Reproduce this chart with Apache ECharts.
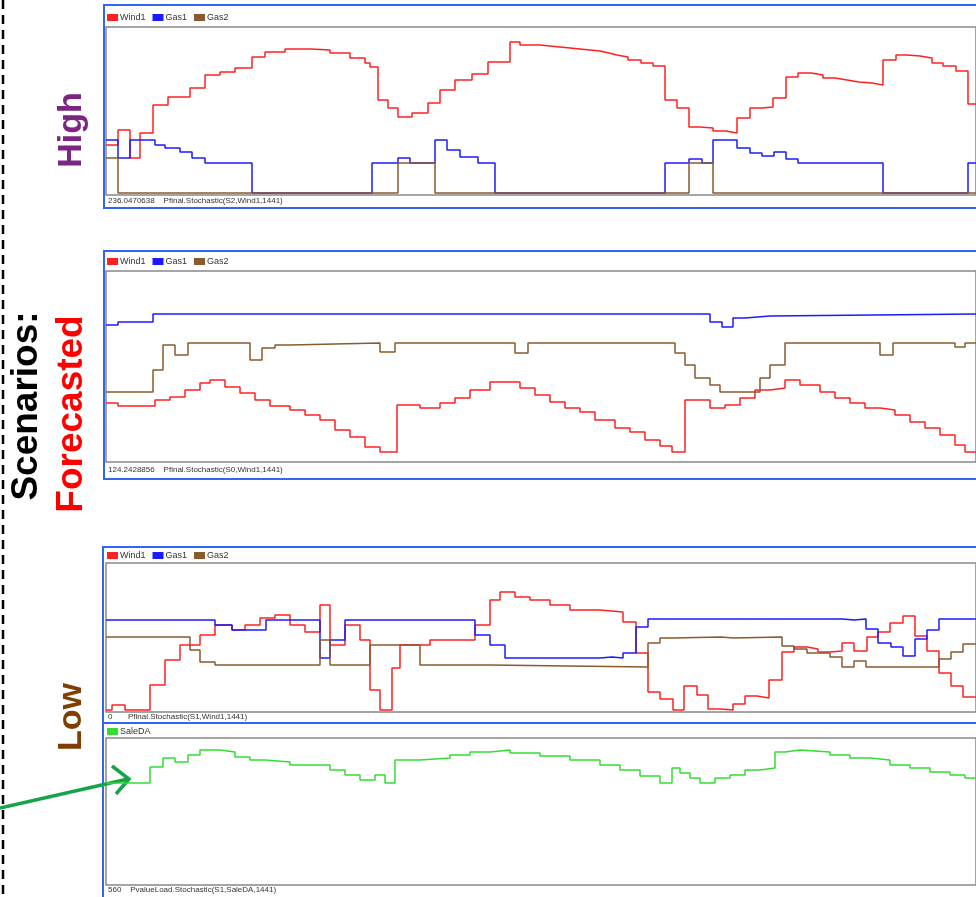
<!DOCTYPE html>
<html>
<head>
<meta charset="utf-8">
<script src="https://cdn.jsdelivr.net/npm/echarts@6/dist/echarts.min.js"></script>
<style>
  html, body { margin: 0; padding: 0; background: #fff; }
  #main { width: 976px; height: 897px; }
</style>
</head>
<body>
<div id="main"></div>
<script>
// x = time step, y = output; step values
const highWind = [[0,48],[12,63],[24,35],[34,60],[47,88],[62,96],[84,105],[99,118],[114,121],[129,125],[146,136],[159,141],[179,144],[204,143],[224,140],[244,135],[259,130],[264,126],[272,93],[282,85],[292,76],[306,80],[322,90],[334,103],[349,113],[366,119],[382,131],[404,151],[414,148],[434,146],[454,144],[474,142],[494,140],[503,138],[511,136],[522,133],[535,130],[547,127],[559,93],[571,85],[583,66],[594,65],[607,62],[620,60],[631,75],[644,85],[656,86],[667,95],[680,116],[692,120],[705,118],[717,115],[729,113],[741,111],[753,110],[766,108],[777,133],[790,138],[801,137],[814,135],[826,130],[837,127],[850,122],[862,89],[870,89]];
const highGas1 = [[0,53],[12,35],[24,53],[49,48],[59,45],[74,41],[86,35],[99,30],[146,0],[266,30],[292,35],[304,30],[329,53],[341,43],[354,36],[372,30],[389,0],[559,30],[583,34],[596,30],[607,53],[631,45],[644,40],[656,37],[668,41],[680,34],[692,30],[777,0],[862,30],[870,30]];
const highGas2 = [[0,35],[12,0],[292,30],[329,0],[583,30],[607,0],[870,0]];

const fcWind = [[0,59],[12,56],[49,62],[64,65],[79,72],[94,79],[104,82],[119,75],[134,69],[149,62],[164,56],[184,52],[199,47],[214,42],[229,32],[244,25],[259,15],[274,10],[291,57],[314,54],[334,59],[349,64],[364,72],[384,80],[414,74],[429,67],[444,60],[459,54],[474,50],[489,42],[509,34],[524,30],[539,22],[554,16],[566,10],[579,62],[604,54],[619,57],[634,64],[649,72],[664,74],[679,82],[694,77],[714,70],[729,64],[744,59],[759,54],[774,52],[789,47],[804,40],[819,34],[834,27],[849,17],[859,10],[870,10]];
const fcGas1 = [[0,137],[12,140],[47,148],[604,140],[616,135],[627,144],[639,146],[664,148],[870,148]];
const fcGas2 = [[0,70],[47,92],[57,117],[69,107],[82,119],[144,102],[156,114],[169,117],[184,119],[274,110],[289,119],[409,109],[422,119],[569,109],[579,97],[589,84],[604,77],[614,70],[654,84],[664,97],[679,119],[774,107],[787,119],[849,115],[859,119],[870,119]];

const lowWind = [[0,1],[6,6],[19,1],[44,26],[59,51],[74,66],[94,76],[109,86],[126,81],[139,86],[154,93],[169,96],[184,86],[199,79],[214,106],[224,66],[239,86],[254,71],[264,21],[274,1],[286,43],[294,66],[324,71],[369,86],[384,111],[394,119],[409,114],[424,111],[444,106],[464,101],[494,99],[517,89],[530,58],[542,19],[554,12],[567,1],[578,25],[591,16],[602,2],[615,1],[627,7],[639,15],[651,13],[663,31],[676,59],[688,64],[701,62],[712,59],[724,60],[736,68],[748,60],[761,74],[772,79],[784,88],[797,95],[809,75],[821,60],[833,38],[845,25],[857,14],[870,14]];
const lowGas1 = [[0,91],[109,86],[126,81],[160,91],[214,53],[224,71],[239,91],[369,76],[384,66],[399,53],[494,54],[506,53],[517,58],[530,84],[542,92],[736,91],[748,92],[760,82],[772,68],[785,64],[797,55],[809,72],[821,81],[833,92],[870,92]];
const lowGas2 = [[0,74],[84,61],[94,49],[109,46],[214,71],[224,46],[264,66],[314,46],[384,44],[542,68],[554,73],[567,74],[615,73],[627,74],[676,65],[688,62],[701,58],[724,54],[736,44],[748,50],[760,44],[833,52],[845,59],[857,67],[870,67]];

const saleDA = [[0,102],[44,118],[57,127],[69,123],[82,130],[94,135],[114,133],[129,128],[144,125],[159,123],[184,120],[224,115],[239,110],[254,105],[269,110],[279,102],[289,125],[314,127],[344,130],[364,133],[384,135],[404,132],[434,129],[464,125],[494,120],[514,115],[534,109],[554,102],[566,117],[574,112],[584,107],[594,102],[609,107],[624,110],[639,115],[654,117],[669,133],[679,135],[694,133],[724,130],[744,127],[764,125],[784,120],[804,117],[824,113],[844,110],[859,107],[870,107]];

const statusTexts = [
  '236.0470638    Pfinal.Stochastic(S2,Wind1,1441)',
  '124.2428856    Pfinal.Stochastic(S0,Wind1,1441)',
  '0       Pfinal.Stochastic(S1,Wind1,1441)',
  '560    PvalueLoad.Stochastic(S1,SaleDA,1441)'
];

const RED = '#ff2020', BLUE = '#1a1aff', BROWN = '#8a5a2c', GREEN = '#33dd33';
const FRAME = '#3366ee';
const FONT = 'Liberation Sans, Arial, sans-serif';

const panels = [
  { top: 27, height: 168, min: -2, max: 166, status: 201 },
  { top: 271, height: 191, min: 0, max: 191, status: 470 },
  { top: 563, height: 149, min: -1, max: 148, status: 717 },
  { top: 738, height: 147, min: 0, max: 147, status: 890 }
];

const chart = echarts.init(document.getElementById('main'));

function stepSeries(name, data, color, idx) {
  return {
    name: name, type: 'line', step: 'end', data: data,
    xAxisIndex: idx, yAxisIndex: idx, symbol: 'none',
    lineStyle: { color: color, width: 1.5 }, itemStyle: { color: color }
  };
}

function legendAt(top, names) {
  return {
    data: names, left: 107, top: top, icon: 'rect', padding: 0,
    itemWidth: 11, itemHeight: 7, itemGap: 7,
    textStyle: { fontSize: 9, color: '#333', fontFamily: FONT, padding: [0, 0, 0, -3] }
  };
}

const graphics = [
  // dashed divider on the far left
  { type: 'line', shape: { x1: 3, y1: 0, x2: 3, y2: 897 },
    style: { stroke: '#000', lineWidth: 2.5, lineDash: [9, 6] } },
  // panel frames
  { type: 'rect', shape: { x: 104, y: 5, width: 900, height: 203 },
    style: { fill: null, stroke: FRAME, lineWidth: 2 } },
  { type: 'rect', shape: { x: 104, y: 251, width: 900, height: 228 },
    style: { fill: null, stroke: FRAME, lineWidth: 2 } },
  { type: 'rect', shape: { x: 103, y: 547, width: 900, height: 360 },
    style: { fill: null, stroke: FRAME, lineWidth: 2 } },
  { type: 'line', shape: { x1: 103, y1: 723, x2: 976, y2: 723 },
    style: { stroke: FRAME, lineWidth: 2 } },
  // side labels
  { type: 'text', x: 72, y: 130, rotation: Math.PI / 2,
    style: { text: 'High', fill: '#7b2683', font: 'bold 34px ' + FONT, align: 'center', verticalAlign: 'middle' } },
  { type: 'text', x: 27, y: 406, rotation: Math.PI / 2,
    style: { text: 'Scenarios:', fill: '#000', font: 'bold 37px ' + FONT, align: 'center', verticalAlign: 'middle' } },
  { type: 'text', x: 72, y: 414, rotation: Math.PI / 2,
    style: { text: 'Forecasted', fill: '#ff0000', font: 'bold 37px ' + FONT, align: 'center', verticalAlign: 'middle' } },
  { type: 'text', x: 72, y: 717, rotation: Math.PI / 2,
    style: { text: 'Low', fill: '#7f3f00', font: 'bold 34px ' + FONT, align: 'center', verticalAlign: 'middle' } },
  // green arrow pointing at SaleDA
  { type: 'polyline', shape: { points: [[0, 808], [128, 779]] },
    style: { stroke: '#17a34a', lineWidth: 3.5, fill: null } },
  { type: 'polyline', shape: { points: [[112, 766], [129, 779], [116, 794]] },
    style: { stroke: '#17a34a', lineWidth: 3.5, fill: null, lineJoin: 'miter' } }
];

panels.forEach(function (p, i) {
  graphics.push({ type: 'text', x: 108, y: p.status,
    style: { text: statusTexts[i], fill: '#333', font: '8px ' + FONT, verticalAlign: 'middle' } });
});

const option = {
  animation: false,
  backgroundColor: '#fff',
  legend: [
    legendAt(13, ['Wind1', 'Gas1', 'Gas2']),
    legendAt(257, ['Wind1', 'Gas1', 'Gas2']),
    legendAt(551, ['Wind1', 'Gas1', 'Gas2']),
    legendAt(727, ['SaleDA'])
  ],
  grid: panels.map(function (p) {
    return { left: 106, right: 0, top: p.top, height: p.height, show: true,
      borderColor: '#888', borderWidth: 1.5, backgroundColor: '#fff' };
  }),
  xAxis: panels.map(function (p, i) {
    return { type: 'value', gridIndex: i, min: 0, max: 870, show: false };
  }),
  yAxis: panels.map(function (p, i) {
    return { type: 'value', gridIndex: i, min: p.min, max: p.max, show: false };
  }),
  series: [
    stepSeries('Wind1', highWind, RED, 0),
    stepSeries('Gas1', highGas1, BLUE, 0),
    stepSeries('Gas2', highGas2, BROWN, 0),
    stepSeries('Wind1', fcWind, RED, 1),
    stepSeries('Gas1', fcGas1, BLUE, 1),
    stepSeries('Gas2', fcGas2, BROWN, 1),
    stepSeries('Wind1', lowWind, RED, 2),
    stepSeries('Gas1', lowGas1, BLUE, 2),
    stepSeries('Gas2', lowGas2, BROWN, 2),
    stepSeries('SaleDA', saleDA, GREEN, 3)
  ],
  graphic: graphics
};

chart.setOption(option);
</script>
</body>
</html>
